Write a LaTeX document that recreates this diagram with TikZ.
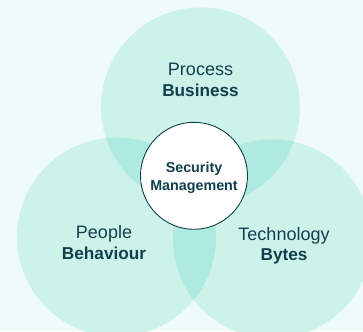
\documentclass[tikz,border=0pt]{standalone}
\usepackage{fontspec}
\setmainfont{Liberation Sans}
\definecolor{bgc}{HTML}{EEFBF8}
\definecolor{one}{HTML}{CCF2EA}
\definecolor{two}{HTML}{AEEAE0}
\definecolor{txt}{HTML}{123F4D}
\begin{document}
\begin{tikzpicture}[x=1pt,y=-1pt,
  lbl/.style={anchor=base,text=txt,inner sep=0pt,font=\fontsize{18}{20}\selectfont},
  blbl/.style={lbl,font=\fontsize{17.2}{19}\selectfont\bfseries},
  clbl/.style={anchor=base,text=txt,inner sep=0pt,font=\fontsize{14.3}{16}\selectfont\bfseries}]
\fill[bgc] (0,0) rectangle (363,331);
\useasboundingbox (0,0) rectangle (363,331);
\coordinate (T) at (200.5,107);
\coordinate (L) at (116.5,237);
\coordinate (R) at (272.5,239);
\def\rr{99.5pt}
\fill[one] (T) circle (\rr);
\fill[one] (L) circle (\rr);
\fill[one] (R) circle (\rr);
\begin{scope}
\clip (T) circle (\rr);
\fill[two] (L) circle (\rr);
\fill[two] (R) circle (\rr);
\end{scope}
\begin{scope}
\clip (L) circle (\rr);
\fill[two] (R) circle (\rr);
\end{scope}
\node[circle,draw=txt,line width=0.9pt,fill=white,minimum size=107pt,inner sep=0pt] (C) at (194,175.8) {};
\node[clbl] (s1) at (194,172.7) {Security};
\node[clbl] (s2) at (194,190) {Management};
\node[lbl] (p1) at (200.5,76) {Process};
\node[blbl] (p2) at (200.5,96.7) {Business};
\node[lbl] (q1) at (104,238.7) {People};
\node[blbl] (q2) at (104,259) {Behaviour};
\node[lbl] (t1) at (284,240.7) {Technology};
\node[blbl] (t2) at (284,260.7) {Bytes};
\end{tikzpicture}
\end{document}
